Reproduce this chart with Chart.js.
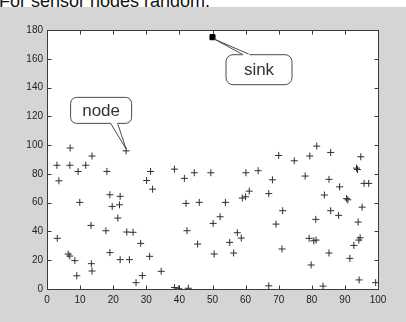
<!DOCTYPE html>
<html>
<head>
<meta charset="utf-8">
<script src="https://cdn.jsdelivr.net/npm/chart.js@4/dist/chart.umd.min.js"></script>
<style>
  html, body { margin: 0; padding: 0; background: #d5d5d5; width: 406px; height: 322px; overflow: hidden; }
  #strip { position: absolute; left: 0; top: 0; width: 406px; height: 7px; background: #fff; overflow: hidden; z-index: 2; }
  #caption { position: absolute; left: -1px; top: -8px; font: 18px/18px "Liberation Sans", Arial, sans-serif; color: #111; white-space: nowrap; }
  #c { position: absolute; left: 0; top: 0; }
</style>
</head>
<body>
<div id="strip"><div id="caption">For sensor nodes random.</div></div>
<canvas id="c" width="406" height="322"></canvas>
<script>
// ---- data ----
const nodeX = [7, 3, 6.9, 11.7, 13.6, 23.9, 3.6, 9.4, 18.1, 31.3, 30.1, 31.9, 9.9, 19, 22.1, 19.7, 21.9, 21.4, 13.3, 17.8,
  24.1, 26, 28.3, 3.1, 6.4, 6.9, 8.4, 19, 22.1, 24.9, 31, 13.4, 13.6, 9, 28.8, 26.9, 34.5,
  38.5, 41.5, 44.5, 49.5, 60.1, 63.8, 67, 61.1, 60, 59, 42, 46, 53.9, 52.3, 50.2, 42.3, 57.5, 58.7, 55.2, 45.5, 50.5, 56.4,
  38.5, 39.8, 42.7, 67,
  81.5, 70, 79.4, 85.7, 94.8, 74.7, 93.5, 93.8, 68.1, 78, 85.2, 88.4, 95.8, 97.2, 83.8, 90.5, 90.9, 95.2, 71.2, 85.7, 88.1,
  81.2, 69.2, 94, 79.2, 80.6, 81.3, 94.6, 94.2, 92.7, 71, 85.2, 91.5, 79.8, 94.3, 99.3, 83.4];
const nodeY = [98, 86, 86, 86, 92.4, 96, 75.2, 81.7, 81.7, 81.7, 75.4, 69.4, 60.2, 65.5, 64.4, 57.4, 58.5, 49.3, 44.2, 40.5,
  39.6, 39.4, 31.7, 35.2, 24.3, 22.9, 19.7, 25.3, 20.4, 20.4, 22.7, 17.6, 12.5, 9.2, 9.3, 4.4, 12.3,
  83.3, 76.9, 80.8, 80.8, 80.8, 82.2, 66.3, 68, 64.1, 63.2, 59.5, 60.2, 60.2, 50.2, 45.6, 40.5, 39.1, 35.4, 32.4, 31.2, 24.3, 25,
  1, 0.2, 0.5, 2.2,
  99.3, 92.8, 92.4, 94.9, 91.9, 89.1, 84, 83, 75.9, 78.5, 76.2, 71, 73.4, 73.4, 65.3, 62.8, 62, 56.9, 54.4, 54.4, 51.2,
  48.4, 45.1, 46.5, 35.2, 33.5, 34, 35.6, 34, 30.3, 27.8, 25, 21.3, 16.7, 6.3, 4.4, 2];
const sinkX = [50];
const sinkY = [175];
const xTicks = [0, 10, 20, 30, 40, 50, 60, 70, 80, 90, 100];
const yTicks = [0, 20, 40, 60, 80, 100, 120, 140, 160, 180];
const labels = ["node", "sink"];
const nodeLabelIndex = 5; // the node pointed at by the "node" callout

const nodePoints = nodeX.map((x, i) => ({ x: x, y: nodeY[i] }));
const sinkPoints = sinkX.map((x, i) => ({ x: x, y: sinkY[i] }));

const FONT = '"Liberation Sans", Arial, sans-serif';

function roundRect(ctx, x, y, w, h, r) {
  ctx.beginPath();
  ctx.moveTo(x + r, y);
  ctx.lineTo(x + w - r, y);
  ctx.arcTo(x + w, y, x + w, y + r, r);
  ctx.lineTo(x + w, y + h - r);
  ctx.arcTo(x + w, y + h, x + w - r, y + h, r);
  ctx.lineTo(x + r, y + h);
  ctx.arcTo(x, y + h, x, y + h - r, r);
  ctx.lineTo(x, y + r);
  ctx.arcTo(x, y, x + r, y, r);
  ctx.closePath();
}

const framePlugin = {
  id: 'frame',
  beforeDraw(chart) {
    const { ctx, chartArea: a } = chart;
    ctx.save();
    ctx.fillStyle = '#ffffff';
    ctx.fillRect(a.left, a.top, a.right - a.left, a.bottom - a.top);
    ctx.restore();
  },
  beforeDatasetsDraw(chart) {
    const { ctx, chartArea: a, scales } = chart;
    const L = Math.round(a.left) + 0.5, R = Math.round(a.right) + 0.5;
    const T = Math.round(a.top) + 0.5, B = Math.round(a.bottom) + 0.5;
    ctx.save();
    ctx.strokeStyle = '#3a3a3a';
    ctx.lineWidth = 1;
    ctx.strokeRect(L, T, R - L, B - T);
    const tl = 4;
    ctx.beginPath();
    scales.x.ticks.forEach(t => {
      const px = Math.round(scales.x.getPixelForValue(t.value)) + 0.5;
      ctx.moveTo(px, B); ctx.lineTo(px, B - tl);
      ctx.moveTo(px, T); ctx.lineTo(px, T + tl);
    });
    scales.y.ticks.forEach(t => {
      const py = Math.round(scales.y.getPixelForValue(t.value)) + 0.5;
      ctx.moveTo(L, py); ctx.lineTo(L + tl, py);
      ctx.moveTo(R, py); ctx.lineTo(R - tl, py);
    });
    ctx.stroke();
    ctx.restore();
  }
};

const calloutPlugin = {
  id: 'callouts',
  afterDraw(chart) {
    const { ctx, scales } = chart;
    const nx = scales.x.getPixelForValue(nodeX[nodeLabelIndex]);
    const ny = scales.y.getPixelForValue(nodeY[nodeLabelIndex]);
    const sx = scales.x.getPixelForValue(sinkX[0]);
    const sy = scales.y.getPixelForValue(sinkY[0]);
    ctx.save();
    ctx.lineWidth = 1;
    ctx.strokeStyle = '#4a4a4a';
    ctx.fillStyle = '#ffffff';

    // "node" callout: box above-left of the point, tail pointing down-right
    let bx = nx - 55.5, by = ny - 53.5, bw = 61, bh = 26;
    roundRect(ctx, bx, by, bw, bh, 6);
    ctx.fill(); ctx.stroke();
    ctx.beginPath();
    ctx.moveTo(bx + 40, by + bh);
    ctx.lineTo(nx, ny - 2);
    ctx.lineTo(bx + 47, by + bh);
    ctx.closePath();
    ctx.fill();
    ctx.beginPath();
    ctx.moveTo(bx + 40, by + bh);
    ctx.lineTo(nx, ny - 2);
    ctx.lineTo(bx + 47, by + bh);
    ctx.stroke();
    ctx.fillStyle = '#ffffff';
    ctx.fillRect(bx + 40.5, by + bh - 1.5, 6, 2);
    ctx.fillStyle = '#333333';
    ctx.font = '17px ' + FONT;
    ctx.textAlign = 'center';
    ctx.textBaseline = 'middle';
    ctx.fillText(labels[0], bx + bw / 2, by + bh / 2 + 0.5);

    // "sink" callout: box below-right of the sink, thin tail up-left
    bx = sx + 13.5; by = sy + 17.5; bw = 66; bh = 30;
    ctx.fillStyle = '#ffffff';
    roundRect(ctx, bx, by, bw, bh, 7);
    ctx.fill(); ctx.stroke();
    ctx.beginPath();
    ctx.moveTo(bx + 17, by + 0.5);
    ctx.lineTo(sx + 2, sy + 2);
    ctx.lineTo(bx + 24, by + 0.5);
    ctx.closePath();
    ctx.fill();
    ctx.beginPath();
    ctx.moveTo(bx + 17, by);
    ctx.lineTo(sx + 2, sy + 2);
    ctx.lineTo(bx + 24, by);
    ctx.stroke();
    ctx.fillStyle = '#ffffff';
    ctx.fillRect(bx + 17.5, by - 0.5, 6, 2);
    ctx.fillStyle = '#333333';
    ctx.fillText(labels[1], bx + bw / 2, by + bh / 2 + 0.5);
    ctx.restore();
  }
};

new Chart(document.getElementById('c'), {
  type: 'scatter',
  data: {
    datasets: [
      {
        label: 'node',
        data: nodePoints,
        pointStyle: 'cross',
        pointRadius: 3.5,
        pointBorderWidth: 1,
        borderColor: '#2e2e2e',
        backgroundColor: '#2e2e2e'
      },
      {
        label: 'sink',
        data: sinkPoints,
        pointStyle: 'rect',
        pointRadius: 3.6,
        pointBorderWidth: 1,
        borderColor: '#000000',
        backgroundColor: '#000000'
      }
    ]
  },
  options: {
    responsive: false,
    animation: false,
    events: [],
    layout: { padding: { left: 0, top: 30, right: 28, bottom: 0 } },
    plugins: { legend: { display: false }, tooltip: { enabled: false } },
    scales: {
      x: {
        type: 'linear', min: 0, max: 100,
        afterBuildTicks: s => { s.ticks = xTicks.map(v => ({ value: v })); },
        afterFit: s => { s.height = 33; },
        grid: { display: false, drawTicks: false },
        border: { display: false },
        ticks: { padding: 5, color: '#222', font: { family: FONT, size: 10 }, maxRotation: 0, autoSkip: false }
      },
      y: {
        type: 'linear', min: 0, max: 180,
        afterBuildTicks: s => { s.ticks = yTicks.map(v => ({ value: v })); },
        afterFit: s => { s.width = 47; },
        grid: { display: false, drawTicks: false },
        border: { display: false },
        ticks: { padding: 4, color: '#222', font: { family: FONT, size: 10 }, autoSkip: false }
      }
    }
  },
  plugins: [framePlugin, calloutPlugin]
});
</script>
</body>
</html>
